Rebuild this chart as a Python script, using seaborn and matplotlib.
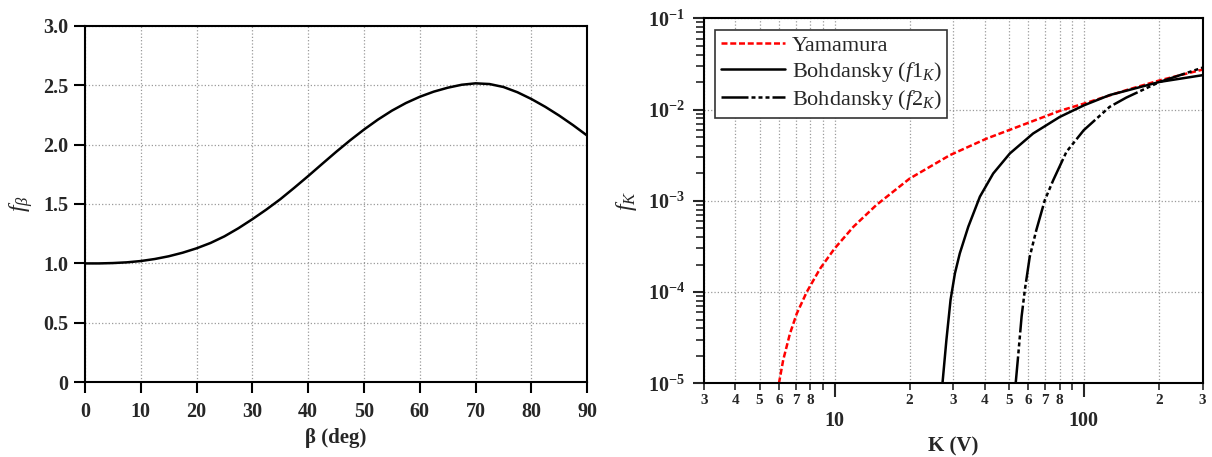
import numpy as np
import matplotlib
matplotlib.use('Agg')
import matplotlib.pyplot as plt
import matplotlib.ticker as mticker
import seaborn as sns

# ---- data: left panel (f_beta vs beta) ----
beta_deg = [0, 2.5, 5, 7.5, 10, 12.5, 15, 17.5, 20, 22.5, 25, 27.5, 30, 32.5, 35, 37.5,
            40, 42.5, 45, 47.5, 50, 52.5, 55, 57.5, 60, 62.5, 65, 67.5, 70, 72.5, 75,
            77.5, 80, 82.5, 85, 87.5, 90]
f_beta = [1.000, 1.000, 1.003, 1.009, 1.020, 1.037, 1.060, 1.090, 1.127, 1.172, 1.228,
          1.296, 1.372, 1.453, 1.540, 1.636, 1.735, 1.837, 1.938, 2.035, 2.126, 2.210,
          2.285, 2.349, 2.402, 2.445, 2.478, 2.503, 2.515, 2.509, 2.484, 2.440, 2.383,
          2.317, 2.243, 2.162, 2.075]

# ---- data: right panel (f_K vs K) ----
K_yam = [5.98, 6.22, 6.62, 7.05, 7.73, 8.74, 10, 11.9, 14.7, 20, 29.0, 40.7, 58.9, 80.1,
         100, 148, 202, 300]
f_yam = [1.0e-5, 1.8e-5, 3.5e-5, 5.8e-5, 1.0e-4, 1.8e-4, 3.0e-4, 5.19e-4, 8.97e-4,
         1.75e-3, 3.16e-3, 4.8e-3, 7.03e-3, 9.67e-3, 1.16e-2, 1.63e-2, 2.09e-2, 2.74e-2]

K_f1 = [27.1, 28.1, 29.2, 30.4, 31.8, 34.4, 38.3, 43.3, 50.5, 62.6, 80.1, 100, 127, 202, 300]
f_f1 = [1e-5, 2.98e-5, 8.2e-5, 1.6e-4, 2.65e-4, 5.2e-4, 1.11e-3, 1.99e-3, 3.3e-3, 5.46e-3,
        8.3e-3, 1.11e-2, 1.44e-2, 2.01e-2, 2.38e-2]

K_f2 = [53.3, 54.5, 56.3, 58.0, 60.7, 64.5, 69.8, 75.4, 85.2, 100, 127, 148, 202, 300]
f_f2 = [1e-5, 1.96e-5, 5.4e-5, 1.05e-4, 2.44e-4, 4.77e-4, 1.02e-3, 1.68e-3, 3.44e-3,
        5.94e-3, 1.07e-2, 1.35e-2, 2.01e-2, 2.88e-2]

left_yticks = [0, 0.5, 1.0, 1.5, 2.0, 2.5, 3.0]
left_yticklabels = ['0', '0.5', '1.0', '1.5', '2.0', '2.5', '3.0']
left_xticks = [0, 10, 20, 30, 40, 50, 60, 70, 80, 90]
legend_labels = ['Yamamura', r'Bohdansky ($\mathit{f1}_{K}$)', r'Bohdansky ($\mathit{f2}_{K}$)']

sns.set_style('ticks')
plt.rcParams['font.family'] = ['Liberation Serif', 'DejaVu Serif']
plt.rcParams['font.weight'] = 'bold'
plt.rcParams['mathtext.fontset'] = 'custom'
plt.rcParams['mathtext.rm'] = 'Liberation Serif:normal'
plt.rcParams['mathtext.it'] = 'Liberation Serif:italic:normal'
plt.rcParams['mathtext.bf'] = 'Liberation Serif:bold'

fig = plt.figure(figsize=(12.12, 4.57), dpi=100)
ax1 = fig.add_axes([0.0701, 0.1635, 0.4144, 0.7803])
ax2 = fig.add_axes([0.5811, 0.1613, 0.4112, 0.7987])

grid_kw = dict(linestyle=':', color='#9a9a9a', linewidth=0.9)

# ---------------- left panel ----------------
sns.lineplot(x=beta_deg, y=f_beta, ax=ax1, color='black', linewidth=1.8)
ax1.set_xlim(0, 90)
ax1.set_ylim(0, 3)
ax1.set_xticks(left_xticks)
ax1.set_xticklabels([str(v) for v in left_xticks])
ax1.set_yticks(left_yticks)
ax1.set_yticklabels(left_yticklabels)
ax1.grid(True, **grid_kw)
ax1.tick_params(direction='out', length=8, width=1.5, labelsize=14.5, color='black')
ax1.tick_params(axis='x', pad=6.5)
ax1.tick_params(axis='y', pad=4)
ax1.set_xlabel('β (deg)', fontsize=15, fontweight='bold', labelpad=4)
ax1.set_ylabel(r'$f_{\beta}$', fontsize=17, labelpad=6)
for s in ax1.spines.values():
    s.set_visible(True)
    s.set_linewidth(1.5)
    s.set_color('black')

# ---------------- right panel ----------------
sns.lineplot(x=K_yam, y=f_yam, ax=ax2, color='red', linewidth=1.8, label=legend_labels[0])
ax2.lines[-1].set_dashes((2.4, 1.1))
sns.lineplot(x=K_f1, y=f_f1, ax=ax2, color='black', linewidth=1.8, label=legend_labels[1])
sns.lineplot(x=K_f2, y=f_f2, ax=ax2, color='black', linewidth=1.8, label=legend_labels[2])
ax2.lines[-1].set_dashes((10.8, 1.2, 1.6, 1.2, 1.6, 1.2, 1.6, 1.2))

ax2.set_xscale('log')
ax2.set_yscale('log')
ax2.set_xlim(3, 300)
ax2.set_ylim(1e-5, 1e-1)

ax2.xaxis.set_major_locator(mticker.LogLocator(base=10, numticks=10))
ax2.xaxis.set_minor_locator(mticker.LogLocator(base=10, subs=np.arange(2, 10), numticks=20))
ax2.xaxis.set_major_formatter(mticker.FuncFormatter(lambda v, p: f'{int(round(v))}'))


def minor_fmt(v, p):
    lead = int(round(v / 10 ** np.floor(np.log10(v) + 1e-9)))
    return str(lead) if 2 <= lead <= 8 else ''


ax2.xaxis.set_minor_formatter(mticker.FuncFormatter(minor_fmt))
ax2.yaxis.set_major_locator(mticker.LogLocator(base=10, numticks=10))
ax2.yaxis.set_minor_locator(mticker.LogLocator(base=10, subs=np.arange(2, 10), numticks=20))
ax2.yaxis.set_major_formatter(mticker.FuncFormatter(
    lambda v, p: r'$\mathbf{10^{%d}}$' % int(round(np.log10(v)))))
ax2.yaxis.set_minor_formatter(mticker.NullFormatter())

ax2.tick_params(axis='x', which='major', direction='out', length=10, width=1.5,
                labelsize=14.5, pad=10)
ax2.tick_params(axis='x', which='minor', direction='out', length=5, width=1.2,
                labelsize=11, pad=3)
ax2.tick_params(axis='y', which='major', direction='out', length=8, width=1.5,
                labelsize=14.5, pad=6)
ax2.tick_params(axis='y', which='minor', direction='out', length=5.5, width=1.2)

ax2.grid(True, which='major', axis='y', **grid_kw)
ax2.grid(True, which='both', axis='x', **grid_kw)
ax2.set_xlabel('K (V)', fontsize=15, fontweight='bold', labelpad=4)
ax2.set_ylabel(r'$f_{K}$', fontsize=17, labelpad=6)
for s in ax2.spines.values():
    s.set_visible(True)
    s.set_linewidth(1.5)
    s.set_color('black')

leg = ax2.legend(loc='upper left', bbox_to_anchor=(0.0215, 0.968), borderaxespad=0,
                 prop={'weight': 'normal', 'size': 16}, handlelength=2.9,
                 handletextpad=0.3, labelspacing=0.18, borderpad=0.25,
                 fancybox=False, framealpha=1, edgecolor='#333333')
leg.get_frame().set_linewidth(1.2)

fig.savefig('out.png', dpi=100)
